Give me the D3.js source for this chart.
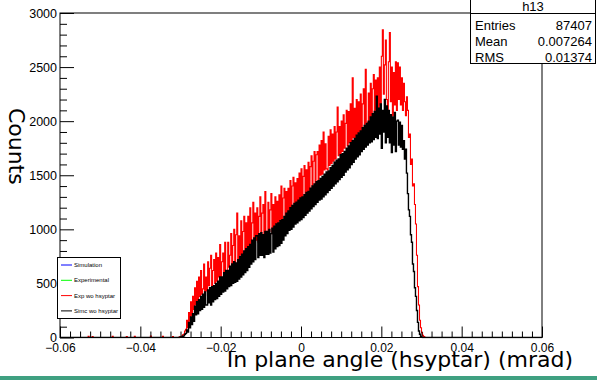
<!DOCTYPE html>
<html><head><meta charset="utf-8">
<script src="https://cdn.jsdelivr.net/npm/d3@7"></script>
<style>body{margin:0;background:#fff}svg{display:block}</style>
</head><body>
<svg id="c" width="597" height="380"></svg>
<script>
// ---- data ----
const binLow = -0.031, binWidth = 0.00025;
const expCounts = [
0,0,2,6,5,14,25,30,60,75,
160,90,230,150,330,200,380,260,460,300,
520,330,560,380,620,400,450,680,390,560,
430,700,480,640,760,470,620,720,500,780,
520,740,560,860,500,700,780,540,880,600,
600,880,650,760,960,620,850,1000,680,950,
1150,700,940,760,1080,730,980,1120,800,1060,
800,1120,830,1200,860,1060,1250,850,1150,900,
1200,880,1120,1300,900,1150,1230,920,1350,980,
950,1250,980,1180,1330,960,1230,1000,1300,1050,
1260,1000,1320,1080,1400,1050,1290,1380,1080,1350,
1120,1380,1150,1450,1160,1400,1480,1180,1430,1200,
1470,1220,1520,1260,1560,1250,1490,1590,1300,1550,
1320,1620,1350,1580,1680,1380,1630,1720,1420,1690,
1720,1450,1780,1500,1820,1510,1900,1550,1790,1560,
1550,1860,1590,1920,1610,1880,1630,1950,1650,1900,
2130,1680,1950,1700,2000,1720,2060,1750,1980,2100,
1770,2090,1800,2160,1790,2400,1850,2120,1840,2200,
1870,2180,1900,2250,1880,2160,2300,1930,2480,1990,
1960,2260,1990,2350,2030,2300,2430,2060,2380,2110,
2400,2100,2500,2150,2600,2845,2250,2520,2750,2200,
2100,2550,2820,2180,2500,2050,2450,2150,2550,2100,
2540,2200,2500,2150,2400,2100,2350,2180,2050,2225,
2100,1850,1880,1600,1650,1400,1420,1230,1050,760,
470,300,160,90,45,20,8,3,0,0,0,0];
const simcCounts = [
0,0,0,2,4,5,12,15,30,38,
70,50,140,90,190,120,220,150,290,210,
330,220,350,250,380,260,400,280,420,300,
300,440,320,460,300,470,330,480,350,500,
360,520,380,560,400,560,420,600,430,620,
450,620,470,660,480,680,500,700,510,690,
520,720,540,750,560,770,580,800,600,820,
620,840,650,860,680,900,700,920,720,940,
940,740,960,760,970,760,950,740,980,770,
980,770,1000,780,960,1010,790,1030,820,1050,
840,1060,850,1080,870,1090,900,1120,940,1150,
960,1170,990,1200,1000,1220,1020,1240,1050,1250,
1060,1270,1080,1290,1090,1300,1110,1320,1130,1340,
1150,1350,1170,1380,1190,1400,1210,1420,1230,1440,
1250,1450,1270,1470,1280,1490,1300,1510,1320,1530,
1340,1540,1360,1570,1380,1590,1400,1620,1420,1640,
1440,1650,1460,1690,1480,1700,1500,1720,1530,1750,
1550,1770,1570,1800,1600,1820,1620,1840,1650,1870,
1670,1890,1690,1910,1720,1940,1740,1960,1760,1980,
1780,2000,1800,2040,1810,2070,1830,2090,1850,2230,
1840,2120,1880,2160,1750,2100,1900,2200,1800,2140,
1850,2100,1800,2060,1710,2040,1780,2080,1720,2000,
2010,1780,1990,1760,1960,1740,1820,1650,1740,1520,
1330,1180,1120,950,880,680,610,460,380,250,
140,60,30,10,3,0,0,0,0,0,0,0];
// isolated low bins of the experimental histogram far left
const expSparseEdges = [-0.0530,-0.0520,-0.0470,-0.0435,-0.0415,-0.0375,-0.0345,-0.0320];
const expSparseCounts = [12,9,10,8,11,14,10,9];

const xMajorTicks = [-0.06,-0.04,-0.02,0,0.02,0.04,0.06];
const yMajorTicks = [0,500,1000,1500,2000,2500,3000];
const legendLabels = ["Simulation","Experimental","Exp wo hsyptar","Simc wo hsyptar"];
const legendColors = ["#0000ff","#00ff00","#ff0000","#000000"];
const statsTitle = "h13";
const statsNames = ["Entries","Mean","RMS"];
const statsValues = ["87407","0.007264","0.01374"];
const xTitle = "In plane angle (hsyptar) (mrad)";
const yTitle = "Counts";

// ---- layout ----
const svg = d3.select("#c");
const L = 60, R = 542, T = 13, B = 337.5;
const x = d3.scaleLinear().domain([-0.06, 0.06]).range([L, R]);
const y = d3.scaleLinear().domain([0, 3000]).range([B, T]);
const lblFont = "'Liberation Sans', Arial, Helvetica, sans-serif";

svg.append("rect").attr("width",597).attr("height",380).attr("fill","#fff");

svg.append("clipPath").attr("id","pc").append("rect")
  .attr("x",L).attr("y",T).attr("width",R-L).attr("height",B-T+1);

const nFull = Math.round(0.12 / binWidth);
function fullHist(counts, sparseE, sparseC) {
  const arr = new Array(nFull).fill(0);
  const off = Math.round((binLow + 0.06) / binWidth);
  counts.forEach((c,i)=>{ arr[off+i] = c; });
  if (sparseE) sparseE.forEach((e,k)=>{ arr[Math.round((e+0.06)/binWidth)] = sparseC[k]; });
  const pts = arr.map((c,i)=>[-0.06 + i*binWidth, c]);
  pts.push([0.06, arr[nFull-1]]);
  return pts;
}
const line = d3.line().x(d=>x(d[0])).y(d=>y(d[1])).curve(d3.curveStepAfter);
const g = svg.append("g").attr("clip-path","url(#pc)");
g.append("path").attr("d", line(fullHist(expCounts, expSparseEdges, expSparseCounts)))
  .attr("fill","none").attr("stroke","#ff0000").attr("stroke-width",1.1);
g.append("path").attr("d", line(fullHist(simcCounts)))
  .attr("fill","none").attr("stroke","#000").attr("stroke-width",1.4);

// axes
const yMinor = d3.range(0, 3001, 100).filter(v=>v%500!==0);
svg.append("g").attr("transform",`translate(${L},0)`)
  .call(d3.axisLeft(y).tickValues(yMinor).tickSize(-7).tickFormat(""))
  .call(a=>a.select(".domain").remove());
svg.append("g").attr("transform",`translate(${L},0)`)
  .call(d3.axisLeft(y).tickValues(yMajorTicks).tickSize(-14).tickPadding(3).tickFormat(d3.format("d")))
  .call(a=>a.select(".domain").remove())
  .call(a=>a.selectAll("text").attr("font-family",lblFont).attr("font-size",12.5).attr("fill","#000"));

const xMinor = d3.range(0, 49).map(i=>-0.06 + i*0.0025).filter(v=>Math.abs(Math.round(v*50)-v*50)>1e-6);
svg.append("g").attr("transform",`translate(0,${B})`)
  .call(d3.axisBottom(x).tickValues(xMinor).tickSize(-6).tickFormat(""))
  .call(a=>a.select(".domain").remove());
svg.append("g").attr("transform",`translate(0,${B})`)
  .call(d3.axisBottom(x).tickValues(xMajorTicks).tickSize(-11).tickPadding(5.5)
        .tickFormat(d=> d===0 ? "0" : d3.format(".2f")(d)))
  .call(a=>a.select(".domain").remove())
  .call(a=>a.selectAll("text").attr("font-family",lblFont).attr("font-size",12).attr("fill","#000"));

svg.selectAll(".tick line").attr("stroke","#000");

// frame
svg.append("rect").attr("x",L).attr("y",T).attr("width",R-L).attr("height",B-T)
  .attr("fill","none").attr("stroke","#000").attr("stroke-width",1);

// legend
const lg = svg.append("g");
lg.append("rect").attr("x",57.5).attr("y",257.5).attr("width",63).attr("height",61)
  .attr("fill","#fff").attr("stroke","#000").attr("stroke-width",1);
legendLabels.forEach((t,i)=>{
  const yy = 265 + i*15.3;
  lg.append("line").attr("x1",61).attr("x2",72).attr("y1",yy).attr("y2",yy)
    .attr("stroke",legendColors[i]).attr("stroke-width",1);
  lg.append("text").attr("x",74).attr("y",yy+2).attr("font-family",lblFont)
    .attr("font-size",6).attr("fill","#000").text(t);
});

// stats box
const sb = svg.append("g");
sb.append("rect").attr("x",470.5).attr("y",-0.5).attr("width",125).attr("height",64)
  .attr("fill","#fff").attr("stroke","#000");
sb.append("line").attr("x1",470.5).attr("x2",595.5).attr("y1",13.5).attr("y2",13.5).attr("stroke","#000");
sb.append("text").attr("x",533).attr("y",11).attr("text-anchor","middle")
  .attr("font-family",lblFont).attr("font-size",13).text(statsTitle);
statsNames.forEach((n,i)=>{
  const yy = 29.5 + i*16;
  sb.append("text").attr("x",475).attr("y",yy).attr("font-family",lblFont).attr("font-size",13).text(n);
  sb.append("text").attr("x",592).attr("y",yy).attr("text-anchor","end").attr("font-family",lblFont).attr("font-size",13).text(statsValues[i]);
});

// titles
svg.append("text").attr("x",573).attr("y",367).attr("text-anchor","end")
  .attr("font-family","'DejaVu Sans', sans-serif").attr("font-size",22).attr("fill","#000").text(xTitle);
svg.append("text").attr("transform","translate(9,108) rotate(90)")
  .attr("font-family","'DejaVu Sans', sans-serif").attr("font-size",22).attr("fill","#000").text(yTitle);

// bottom bar
svg.append("rect").attr("x",0).attr("y",376).attr("width",597).attr("height",4).attr("fill","#3fa081");
</script>
</body></html>
